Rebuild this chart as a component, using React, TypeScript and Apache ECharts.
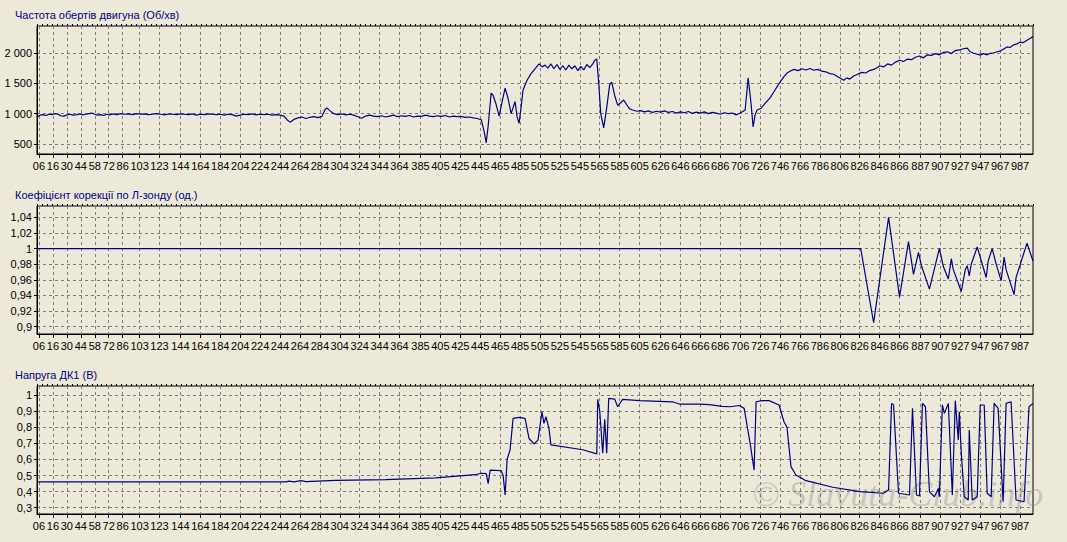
import React, { useEffect, useRef } from 'react';
import * as echarts from 'echarts';

// x-axis tick positions (sample index) and their labels
const xTickValues = [2, 16, 30, 44, 58, 72, 86, 103, 123, 144, 164, 184, 204, 224, 244, 264, 284, 304, 324, 344, 364, 385, 405, 425, 445, 465, 485, 505, 525, 545, 565, 585, 605, 626, 646, 666, 686, 706, 726, 746, 766, 786, 806, 826, 846, 866, 887, 907, 927, 947, 967, 987];
const xTickLabels = ['06', '16', '30', '44', '58', '72', '86', '103', '123', '144', '164', '184', '204', '224', '244', '264', '284', '304', '324', '344', '364', '385', '405', '425', '445', '465', '485', '505', '525', '545', '565', '585', '605', '626', '646', '666', '686', '706', '726', '746', '766', '786', '806', '826', '846', '866', '887', '907', '927', '947', '967', '987'];

const titles = ['Частота обертів двигуна (Об/хв)', 'Коефіцієнт корекції по Л-зонду (од.)', 'Напруга ДК1 (В)'];

const rpmTicks = [500, 1000, 1500, 2000];
const lambdaTicks = [0.9, 0.92, 0.94, 0.96, 0.98, 1, 1.02, 1.04];
const dk1Ticks = [0.3, 0.4, 0.5, 0.6, 0.7, 0.8, 0.9, 1];

// Engine speed (rpm)
const rpmPoints: [number, number][] = [
  [0, 940], [3, 975], [6, 985], [9, 970], [12, 990], [15, 985], [18, 1000], [21, 990], [24, 965], [27, 960], [30, 980], [33, 990], [36, 975], [40, 985], [43, 995], [46, 980], [49, 990], [52, 1000], [55, 1010], [58, 990], [61, 975], [64, 985], [67, 970], [70, 990], [73, 980], [76, 995], [80, 985], [84, 1000], [88, 990], [92, 995], [96, 985], [100, 1000], [104, 990], [108, 995], [112, 985], [116, 990], [120, 1000], [124, 990], [128, 980], [132, 995], [136, 990], [140, 985], [144, 995], [148, 990], [152, 985], [156, 995], [160, 975], [164, 990], [168, 985], [172, 995], [176, 990], [180, 985], [184, 990], [188, 975], [192, 990], [196, 985], [200, 960], [204, 975], [208, 990], [212, 985], [216, 995], [220, 980], [224, 990], [228, 985], [232, 990], [236, 975], [240, 985], [244, 975], [248, 960], [251, 900], [254, 860], [258, 905], [262, 930], [266, 945], [270, 920], [274, 940], [278, 950], [282, 935], [286, 955], [289, 1060], [291, 1095], [294, 1050], [298, 1000], [302, 985], [306, 995], [310, 980], [314, 990], [318, 975], [322, 950], [326, 925], [330, 960], [334, 975], [338, 960], [342, 950], [346, 965], [350, 945], [354, 960], [358, 975], [362, 950], [366, 965], [370, 955], [374, 970], [378, 945], [382, 960], [386, 955], [390, 975], [394, 960], [398, 950], [402, 965], [406, 955], [410, 970], [414, 945], [418, 960], [422, 950], [426, 955], [430, 940], [434, 945], [438, 930], [442, 920], [446, 900], [449, 700], [451, 520], [453, 800], [456, 1340], [458, 1300], [461, 1150], [464, 960], [467, 1200], [470, 1420], [473, 1250], [476, 1000], [478, 1100], [480, 1200], [482, 950], [484, 840], [486, 1100], [488, 1390], [492, 1550], [496, 1660], [500, 1740], [504, 1820], [507, 1770], [510, 1800], [513, 1750], [516, 1820], [519, 1740], [522, 1810], [525, 1730], [528, 1790], [531, 1720], [534, 1800], [537, 1740], [540, 1790], [543, 1710], [546, 1780], [549, 1720], [552, 1810], [555, 1760], [558, 1820], [560, 1880], [562, 1900], [564, 1500], [566, 1000], [569, 765], [572, 1100], [575, 1480], [577, 1520], [580, 1300], [583, 1140], [586, 1180], [589, 1225], [592, 1150], [595, 1080], [598, 1060], [602, 1040], [606, 1050], [610, 1030], [614, 1045], [618, 1020], [622, 1040], [626, 1025], [630, 1045], [634, 1020], [638, 1035], [642, 1010], [646, 1030], [650, 1015], [654, 1035], [658, 1005], [662, 1025], [666, 1010], [670, 1030], [674, 1000], [678, 1020], [682, 1010], [686, 990], [690, 1015], [694, 1000], [698, 1010], [702, 980], [706, 1010], [709, 1040], [711, 1060], [714, 1590], [716, 1300], [717, 1150], [719, 780], [721, 980], [723, 1060], [727, 1090], [731, 1170], [736, 1260], [741, 1390], [746, 1520], [750, 1610], [753, 1670], [756, 1700], [760, 1730], [764, 1710], [768, 1740], [772, 1720], [776, 1745], [780, 1715], [784, 1730], [788, 1700], [792, 1690], [796, 1660], [800, 1650], [804, 1610], [807, 1580], [810, 1550], [813, 1590], [816, 1570], [820, 1620], [824, 1650], [828, 1680], [832, 1670], [836, 1710], [840, 1730], [844, 1760], [846, 1790], [850, 1770], [854, 1820], [858, 1800], [862, 1850], [866, 1880], [870, 1860], [874, 1900], [878, 1890], [882, 1930], [886, 1950], [890, 1920], [894, 1970], [898, 1960], [902, 1990], [906, 1970], [910, 2010], [914, 2020], [918, 1990], [922, 2040], [926, 2050], [930, 2070], [934, 2080], [937, 2020], [940, 2000], [944, 1980], [947, 1965], [950, 1990], [954, 1970], [957, 1995], [960, 2000], [964, 2020], [967, 2030], [970, 2060], [974, 2100], [977, 2090], [980, 2130], [984, 2150], [987, 2180], [990, 2170], [994, 2210], [997, 2240], [1000, 2270],
];

// Lambda correction coefficient
const lambdaPoints: [number, number][] = [
  [0, 1], [827, 1], [840, 0.905], [855, 1.04], [866, 0.938], [875, 1.009], [880, 0.967], [885, 0.995], [888, 0.978], [896, 0.948], [906, 1.0], [910, 0.977], [915, 0.961], [918, 0.987], [920, 0.973], [928, 0.945], [932, 0.973], [934, 0.978], [936, 0.965], [938, 0.98], [944, 1.002], [953, 0.963], [955, 0.984], [959, 1.0], [963, 0.98], [968, 0.959], [971, 0.989], [973, 0.973], [981, 0.941], [983, 0.963], [994, 1.007], [1000, 0.984],
];

// O2 sensor voltage (V)
const dk1Points: [number, number][] = [
  [0, 0.46], [100, 0.46], [200, 0.46], [250, 0.461], [253, 0.465], [258, 0.46], [265, 0.468], [270, 0.462], [300, 0.47], [350, 0.475], [400, 0.485], [440, 0.505], [446, 0.514], [451, 0.512], [453, 0.45], [455, 0.534], [466, 0.53], [468, 0.5], [470, 0.379], [472, 0.6], [475, 0.66], [478, 0.855], [484, 0.861], [490, 0.855], [494, 0.73], [499, 0.696], [503, 0.72], [507, 0.896], [509, 0.824], [511, 0.865], [514, 0.793], [516, 0.69], [548, 0.66], [562, 0.634], [563, 0.973], [565, 0.9], [568, 0.638], [570, 0.85], [572, 0.638], [574, 0.979], [580, 0.975], [583, 0.927], [588, 0.973], [605, 0.965], [638, 0.958], [645, 0.944], [665, 0.944], [675, 0.94], [688, 0.93], [696, 0.927], [705, 0.935], [710, 0.917], [716, 0.7], [720, 0.534], [722, 0.958], [728, 0.965], [735, 0.965], [745, 0.938], [750, 0.834], [753, 0.8], [757, 0.555], [762, 0.503], [772, 0.468], [799, 0.427], [826, 0.4], [850, 0.39], [855, 0.41], [858, 0.948], [860, 0.938], [865, 0.39], [876, 0.379], [879, 0.917], [883, 0.379], [886, 0.373], [889, 0.948], [892, 0.927], [896, 0.4], [901, 0.368], [905, 0.42], [906, 0.368], [909, 0.938], [911, 0.886], [915, 0.948], [919, 0.379], [922, 0.965], [925, 0.72], [926, 0.896], [928, 0.638], [931, 0.368], [935, 0.348], [936, 0.783], [939, 0.348], [944, 0.368], [947, 0.938], [951, 0.938], [954, 0.39], [958, 0.368], [961, 0.948], [965, 0.917], [970, 0.337], [973, 0.948], [978, 0.958], [983, 0.348], [991, 0.337], [996, 0.927], [1000, 0.948],
];

const FONT = 'Liberation Sans';
const BG = '#ECE9D8';
const LINE = '#000080';
const GRID_LINE = { type: [3, 3] as any, color: '#7c7c7c', width: 1 };

function fmtRpm(v: number) {
  const s = String(Math.round(v));
  return s.length > 3 ? s.slice(0, s.length - 3) + ' ' + s.slice(-3) : s;
}
function fmtDec(v: number) {
  return String(+v.toFixed(2)).replace('.', ',');
}

export default function App() {
  const ref = useRef<HTMLDivElement>(null);
  useEffect(() => {
    if (!ref.current) return;
    const chart = echarts.init(ref.current, null, { renderer: 'svg' });
    const tops = [26, 206, 386];
    const yCfg = [
      { min: 335, max: 2445, ticks: rpmTicks, fmt: fmtRpm },
      { min: 0.8906, max: 1.0545, ticks: lambdaTicks, fmt: fmtDec },
      { min: 0.261, max: 1.056, ticks: dk1Ticks, fmt: fmtDec },
    ];
    const data = [rpmPoints, lambdaPoints, dk1Points];
    const grids = tops.map((t) => ({
      left: 37, right: 34, top: t, height: 128, show: true,
      borderColor: '#000', borderWidth: 1, backgroundColor: 'transparent', containLabel: false,
    }));
    const xAxes: any[] = [];
    tops.forEach((_, i) => {
      xAxes.push({
        type: 'value', gridIndex: i, min: 0, max: 1000,
        axisLine: { show: true, lineStyle: { color: '#000' } },
        axisTick: { show: true, customValues: xTickValues, length: 4, lineStyle: { color: '#000' } },
        axisLabel: {
          customValues: xTickValues, margin: 6, color: '#000', fontSize: 11, fontFamily: FONT,
          showMinLabel: true, showMaxLabel: true, hideOverlap: false,
          formatter: (v: number) => xTickLabels[xTickValues.indexOf(v)] ?? '',
        },
        splitLine: { show: true, lineStyle: GRID_LINE },
      });
    });
    tops.forEach((_, i) => {
      xAxes.push({
        type: 'value', gridIndex: i, min: 0, max: 1000, interval: 5,
        axisLine: { show: false }, axisLabel: { show: false }, splitLine: { show: false },
        axisTick: { show: true, length: 2, lineStyle: { color: '#000' } },
      });
    });
    const yAxes = yCfg.map((c, i) => ({
      type: 'value', gridIndex: i, min: c.min, max: c.max,
      axisLine: { show: true, lineStyle: { color: '#000' } },
      axisTick: { show: true, customValues: c.ticks, length: 3, lineStyle: { color: '#000' } },
      axisLabel: { customValues: c.ticks, margin: 5, color: '#000', fontSize: 11, fontFamily: FONT, formatter: (v: number) => c.fmt(v) },
      splitLine: { show: true, lineStyle: GRID_LINE },
    }));
    chart.setOption({
      animation: false,
      backgroundColor: BG,
      title: titles.map((t, i) => ({
        text: t, left: 15, top: [9, 189, 369][i], padding: 0,
        textStyle: { color: '#000080', fontSize: 11, fontWeight: 'normal', fontFamily: FONT },
      })),
      grid: grids,
      xAxis: xAxes,
      yAxis: yAxes,
      graphic: [
        {
          type: 'text', left: 752, top: 476, silent: true,
          style: { text: '© Slavuta-Club.info', font: 'italic 36px "Liberation Serif"', fill: 'rgba(140,140,140,0.4)' },
        },
      ],
      series: data.map((d, i) => ({
        type: 'line', xAxisIndex: i, yAxisIndex: i, data: d, showSymbol: false, symbol: 'none',
        lineStyle: { color: LINE, width: 1.2 }, clip: true,
      })),
    });
    return () => chart.dispose();
  }, []);
  return <div ref={ref} style={{ position: 'absolute', left: 0, top: 0, width: 1067, height: 542 }} />;
}
